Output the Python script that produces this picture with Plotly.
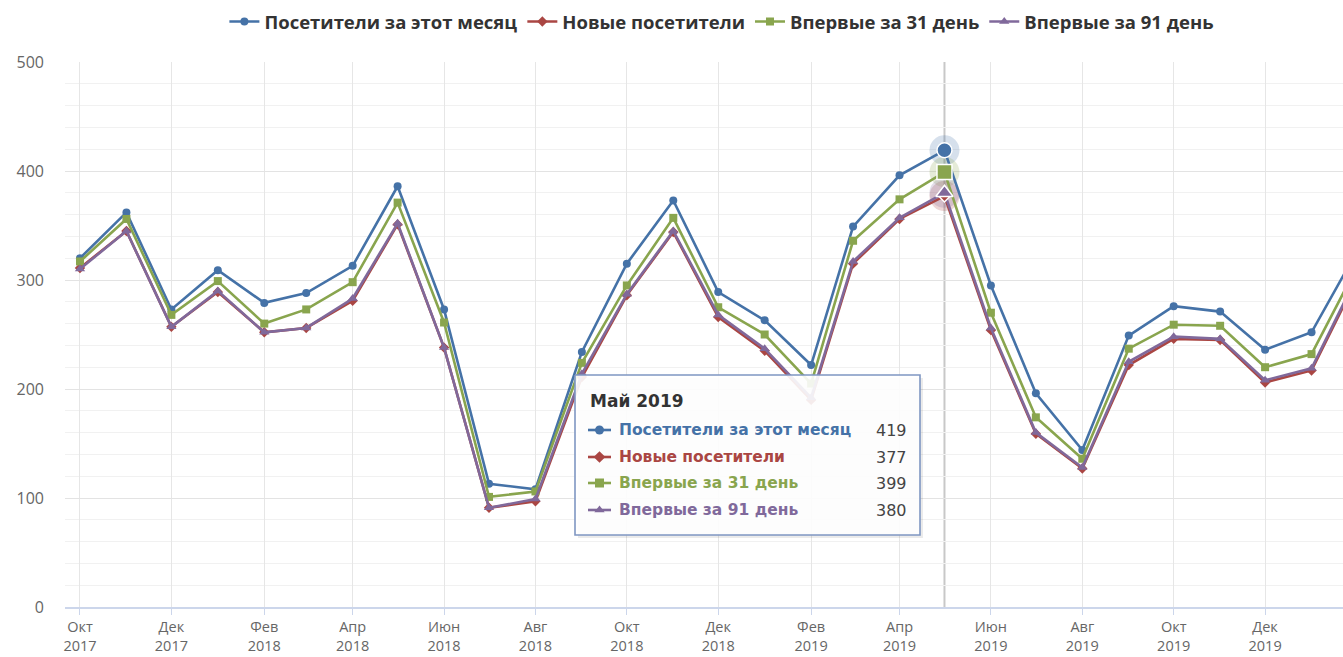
import plotly.graph_objects as go

# Monthly visitor statistics, Oct 2017 – Feb 2020
months = [
    "2017-10-01", "2017-11-01", "2017-12-01", "2018-01-01", "2018-02-01", "2018-03-01",
    "2018-04-01", "2018-05-01", "2018-06-01", "2018-07-01", "2018-08-01", "2018-09-01",
    "2018-10-01", "2018-11-01", "2018-12-01", "2019-01-01", "2019-02-01", "2019-03-01",
    "2019-04-01", "2019-05-01", "2019-06-01", "2019-07-01", "2019-08-01", "2019-09-01",
    "2019-10-01", "2019-11-01", "2019-12-01", "2020-01-01", "2020-02-01",
]

visitors_month = [320, 362, 273, 309, 279, 288, 313, 386, 273, 113, 108, 234,
                  315, 373, 289, 263, 222, 349, 396, 419, 295, 196, 144, 249,
                  276, 271, 236, 252, 328]
new_visitors = [311, 345, 257, 289, 252, 256, 281, 351, 238, 91, 97, 211,
                286, 344, 266, 235, 190, 315, 356, 377, 254, 159, 127, 222,
                246, 245, 206, 217, 303]
first_31 = [317, 356, 268, 299, 260, 273, 298, 371, 261, 101, 106, 224,
            295, 357, 275, 250, 205, 336, 374, 399, 270, 174, 136, 237,
            259, 258, 220, 232, 314]
first_91 = [310, 345, 257, 290, 252, 256, 283, 352, 238, 91, 99, 214,
            287, 345, 268, 237, 192, 317, 357, 380, 256, 160, 128, 225,
            248, 246, 208, 219, 305]

series_names = ["Посетители за этот месяц", "Новые посетители",
                "Впервые за 31 день", "Впервые за 91 день"]
series_values = [visitors_month, new_visitors, first_31, first_91]
series_colors = ["#4572A7", "#AA4643", "#89A54E", "#80699B"]
series_symbols = ["circle", "diamond", "square", "triangle-up"]

tick_dates = ["2017-10-01", "2017-12-01", "2018-02-01", "2018-04-01", "2018-06-01",
              "2018-08-01", "2018-10-01", "2018-12-01", "2019-02-01", "2019-04-01",
              "2019-06-01", "2019-08-01", "2019-10-01", "2019-12-01", "2020-02-01"]
tick_labels = ["Окт<br>2017", "Дек<br>2017", "Фев<br>2018", "Апр<br>2018", "Июн<br>2018",
               "Авг<br>2018", "Окт<br>2018", "Дек<br>2018", "Фев<br>2019", "Апр<br>2019",
               "Июн<br>2019", "Авг<br>2019", "Окт<br>2019", "Дек<br>2019", "Фев<br>2020"]

hover_month = "2019-05-01"
hover_title = "Май 2019"
hover_idx = months.index(hover_month)

# plot area in pixels
W, H = 1343, 657
L, R, T, B = 65, 1343, 62, 607

fig = go.Figure()

# hover halos under the highlighted month
for name, vals, color, sym in zip(series_names, series_values, series_colors, series_symbols):
    fig.add_trace(go.Scatter(
        x=[months[hover_idx]], y=[vals[hover_idx]], mode="markers",
        marker=dict(symbol="circle", size=30, color=color, opacity=0.22),
        showlegend=False, hoverinfo="skip"))

for name, vals, color, sym in zip(series_names, series_values, series_colors, series_symbols):
    fig.add_trace(go.Scatter(
        x=months, y=vals, name=name, mode="lines+markers",
        line=dict(color=color, width=2.6),
        marker=dict(symbol=sym, size=8 if sym != "triangle-up" else 9, color=color),
        hoverinfo="skip"))

# enlarged markers at the highlighted month
hover_sizes = [15, 9, 15, 15]
for vals, color, sym, sz in zip(series_values, series_colors, series_symbols, hover_sizes):
    fig.add_trace(go.Scatter(
        x=[months[hover_idx]], y=[vals[hover_idx]], mode="markers",
        marker=dict(symbol=sym, size=sz, color=color, line=dict(color="white", width=1.5)),
        showlegend=False, hoverinfo="skip"))

# tooltip box drawn on an overlay axis in pixel units
bx0, bx1, by0, by1 = 575, 920, 375, 535
fig.add_trace(go.Scatter(
    x=[bx0 + 3, bx1 + 3, bx1 + 3, bx0 + 3, bx0 + 3], y=[by0 + 3, by0 + 3, by1 + 3, by1 + 3, by0 + 3],
    xaxis="x2", yaxis="y2", mode="lines", fill="toself",
    fillcolor="rgba(0,0,0,0.08)", line=dict(width=0), showlegend=False, hoverinfo="skip"))
fig.add_trace(go.Scatter(
    x=[bx0, bx1, bx1, bx0, bx0], y=[by0, by0, by1, by1, by0],
    xaxis="x2", yaxis="y2", mode="lines", fill="toself",
    fillcolor="rgba(255,255,255,0.9)", line=dict(color="#7f97c2", width=1.6),
    showlegend=False, hoverinfo="skip"))

row_y = [430, 457, 483, 510]
annotations = []
annotations.append(dict(
    x=588, y=401, xref="x2", yref="y2", text="<b>" + hover_title + "</b>", showarrow=False,
    xanchor="left", yanchor="middle",
    font=dict(family="DejaVu Sans", size=17, color="#333333")))
for ry, name, vals, color, sym in zip(row_y, series_names, series_values, series_colors, series_symbols):
    fig.add_trace(go.Scatter(
        x=[588, 611], y=[ry, ry], xaxis="x2", yaxis="y2", mode="lines",
        line=dict(color=color, width=2.6), showlegend=False, hoverinfo="skip"))
    fig.add_trace(go.Scatter(
        x=[599.5], y=[ry], xaxis="x2", yaxis="y2", mode="markers",
        marker=dict(symbol=sym, size=9, color=color), showlegend=False, hoverinfo="skip"))
    annotations.append(dict(
        x=617, y=ry, xref="x2", yref="y2", text="<b>" + name + "</b>", showarrow=False,
        xanchor="left", yanchor="middle",
        font=dict(family="DejaVu Sans", size=15.5, color=color)))
    annotations.append(dict(
        x=909, y=ry, xref="x2", yref="y2", text=str(vals[hover_idx]), showarrow=False,
        xanchor="right", yanchor="middle",
        font=dict(family="DejaVu Sans", size=16, color="#444444")))

fig.update_layout(
    width=W, height=H,
    margin=dict(l=L, r=W - R, t=T, b=H - B, pad=0, autoexpand=False),
    paper_bgcolor="white", plot_bgcolor="white",
    font=dict(family="Open Sans", color="#666666"),
    xaxis=dict(
        type="date", range=["2017-09-21", "2020-01-22"],
        tickvals=tick_dates, ticktext=tick_labels,
        tickfont=dict(family="Open Sans", size=14.5, color="#666666"),
        showgrid=True, gridcolor="#e6e6e6", gridwidth=1,
        ticks="outside", ticklen=6, tickcolor="#ccd6eb",
        showline=True, linecolor="#ccd6eb", linewidth=1.5,
        zeroline=False, fixedrange=True, automargin=False),
    yaxis=dict(
        range=[0, 500], tickvals=[0, 100, 200, 300, 400, 500],
        tickfont=dict(family="Open Sans", size=16, color="#666666"),
        showgrid=True, gridcolor="#e3e3e3", gridwidth=1,
        minor=dict(dtick=20, showgrid=True, gridcolor="#f1f1f1", gridwidth=1),
        zeroline=False, ticklabelstandoff=20, fixedrange=True, automargin=False),
    xaxis2=dict(overlaying="x", range=[L, R], visible=False, fixedrange=True),
    yaxis2=dict(overlaying="y", range=[B, T], visible=False, fixedrange=True),
    legend=dict(
        orientation="h", x=0.514, xanchor="center", y=(B - 22) / (B - T), yanchor="middle",
        font=dict(family="Open Sans", size=18.5, color="#333333", weight="bold"),
        itemwidth=30, tracegroupgap=0, bgcolor="rgba(0,0,0,0)"),
    shapes=[dict(
        type="line", xref="x", yref="paper", x0=hover_month, x1=hover_month, y0=0, y1=1,
        line=dict(color="#c8c8c8", width=2), layer="below")],
    annotations=annotations,
    showlegend=True,
    hovermode=False,
)

fig.write_html("out.html")
